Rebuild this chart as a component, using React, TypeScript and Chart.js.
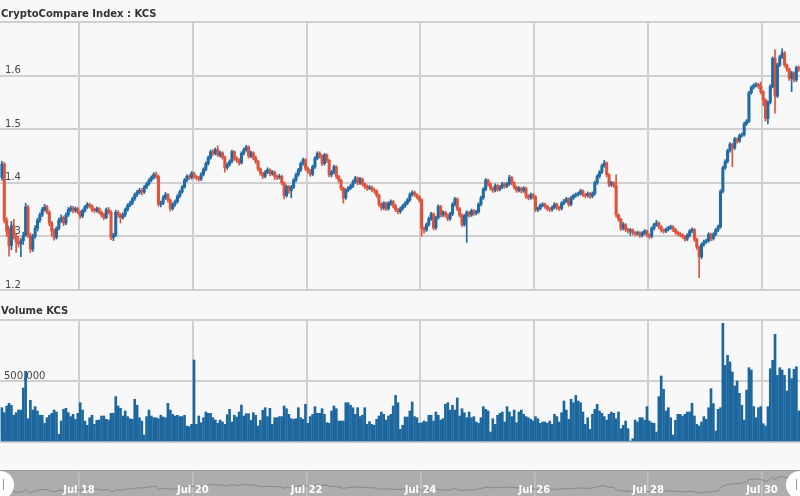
import React, { useEffect, useRef } from 'react';
import { Chart, registerables } from 'chart.js';

Chart.register(...registerables);
Chart.defaults.font.family = '"DejaVu Sans", Verdana, sans-serif';

// time axis: hours since Jul 16 00:00
const FIRST_HOUR = 15;
const X_MIN = 14.69;
const X_MAX = 352.03;
const dayTicks = [48, 96, 144, 192, 240, 288, 336];
const dayLabels = ['Jul 18', 'Jul 20', 'Jul 22', 'Jul 24', 'Jul 26', 'Jul 28', 'Jul 30'];

const priceTicks = [1.2, 1.3, 1.4, 1.5, 1.6, 1.7];
const priceTickLabels = ['1.2', '1.3', '1.4', '1.5', '1.6', ''];
const volumeTicks = [0, 500, 1000];
const volumeTickLabels = ['0', '500,000', ''];

const opens = [
  1.410,1.435,1.330,1.310,1.283,1.320,1.300,1.290,1.286,1.292,
  1.302,1.355,1.302,1.276,1.300,1.315,1.330,1.340,1.350,1.355,
  1.345,1.325,1.310,1.298,1.315,1.330,1.335,1.325,1.340,1.350,
  1.353,1.348,1.352,1.345,1.338,1.348,1.355,1.360,1.357,1.350,
  1.348,1.352,1.345,1.340,1.335,1.350,1.345,1.298,1.302,1.345,
  1.340,1.335,1.340,1.350,1.358,1.362,1.370,1.378,1.382,1.386,
  1.383,1.392,1.398,1.405,1.410,1.416,1.412,1.360,1.362,1.372,
  1.378,1.368,1.352,1.360,1.365,1.375,1.383,1.392,1.405,1.412,
  1.410,1.418,1.412,1.410,
  1.407,1.416,1.425,1.436,1.447,1.458,1.455,1.462,1.452,1.456,
  1.448,1.428,1.434,1.440,1.458,1.446,1.442,1.437,1.455,1.462,
  1.467,1.450,1.456,1.447,1.440,1.426,1.418,1.412,1.420,1.424,
  1.417,1.420,1.412,1.410,1.412,1.400,1.376,1.393,1.385,1.392,
  1.405,1.415,1.424,1.436,1.443,1.427,1.422,1.416,1.430,1.446,
  1.455,1.450,1.436,1.452,1.442,1.415,1.420,1.430,1.412,1.405,
  1.390,1.372,1.386,1.390,1.394,1.402,1.409,1.400,1.407,1.398,
  1.393,1.390,1.392,1.387,1.385,1.377,1.360,1.353,1.362,1.352,
  1.362,1.365,1.357,1.350,
  1.346,1.352,1.357,1.362,1.368,1.378,1.382,1.378,1.374,1.368,
  1.315,1.312,1.322,1.333,1.342,1.316,1.335,1.356,1.340,1.345,
  1.340,1.333,1.342,1.360,1.370,1.352,1.340,1.322,1.338,1.345,
  1.340,1.348,1.343,1.346,1.360,1.372,1.388,1.405,1.398,1.390,
  1.386,1.395,1.388,1.392,1.398,1.394,1.398,1.410,1.400,1.392,
  1.386,1.390,1.385,1.390,1.375,1.372,1.378,1.374,1.350,1.352,
  1.358,1.360,1.356,1.352,1.350,1.354,1.360,1.354,1.352,1.362,
  1.366,1.370,1.360,1.372,1.376,1.378,1.380,1.385,1.378,1.376,
  1.380,1.375,1.380,1.400,1.412,
  1.420,1.432,1.437,1.415,1.397,1.400,1.395,1.340,1.332,1.315,
  1.322,1.313,1.310,1.312,1.307,1.305,1.307,1.302,1.306,1.310,
  1.303,1.300,1.315,1.322,1.325,1.318,1.312,1.310,1.313,1.316,
  1.318,1.313,1.308,1.305,1.303,1.300,1.295,1.302,1.310,1.313,
  1.295,1.280,1.262,1.285,1.290,1.292,1.304,1.296,1.304,1.312,
  1.318,1.384,1.428,1.440,1.460,1.472,1.465,1.482,1.478,1.488,
  1.490,1.510,1.515,1.568,1.578,1.582,1.584,1.580,1.570,1.555,
  1.520,1.550,1.580,1.632,1.562,1.620,1.635,1.642,1.620,1.612,
  1.595,1.605,1.592,1.615,
];

const closes = [
  1.435,1.330,1.310,1.283,1.320,1.300,1.290,1.286,1.292,1.302,
  1.355,1.302,1.276,1.300,1.315,1.330,1.340,1.350,1.355,1.345,
  1.325,1.310,1.298,1.315,1.330,1.335,1.325,1.340,1.350,1.353,
  1.348,1.352,1.345,1.338,1.348,1.355,1.360,1.357,1.350,1.348,
  1.352,1.345,1.340,1.335,1.350,1.345,1.298,1.302,1.345,1.340,
  1.335,1.340,1.350,1.358,1.362,1.370,1.378,1.382,1.386,1.383,
  1.392,1.398,1.405,1.410,1.416,1.412,1.360,1.362,1.372,1.378,
  1.368,1.352,1.360,1.365,1.375,1.383,1.392,1.405,1.412,1.410,
  1.418,1.412,1.410,1.407,
  1.416,1.425,1.436,1.447,1.458,1.455,1.462,1.452,1.456,1.448,
  1.428,1.434,1.440,1.458,1.446,1.442,1.437,1.455,1.462,1.467,
  1.450,1.456,1.447,1.440,1.426,1.418,1.412,1.420,1.424,1.417,
  1.420,1.412,1.410,1.412,1.400,1.376,1.393,1.385,1.392,1.405,
  1.415,1.424,1.436,1.443,1.427,1.422,1.416,1.430,1.446,1.455,
  1.450,1.436,1.452,1.442,1.415,1.420,1.430,1.412,1.405,1.390,
  1.372,1.386,1.390,1.394,1.402,1.409,1.400,1.407,1.398,1.393,
  1.390,1.392,1.387,1.385,1.377,1.360,1.353,1.362,1.352,1.362,
  1.365,1.357,1.350,1.346,
  1.352,1.357,1.362,1.368,1.378,1.382,1.378,1.374,1.368,1.315,
  1.312,1.322,1.333,1.342,1.316,1.335,1.356,1.340,1.345,1.340,
  1.333,1.342,1.360,1.370,1.352,1.340,1.322,1.338,1.345,1.340,
  1.348,1.343,1.346,1.360,1.372,1.388,1.405,1.398,1.390,1.386,
  1.395,1.388,1.392,1.398,1.394,1.398,1.410,1.400,1.392,1.386,
  1.390,1.385,1.390,1.375,1.372,1.378,1.374,1.350,1.352,1.358,
  1.360,1.356,1.352,1.350,1.354,1.360,1.354,1.352,1.362,1.366,
  1.370,1.360,1.372,1.376,1.378,1.380,1.385,1.378,1.376,1.380,
  1.375,1.380,1.400,1.412,1.420,
  1.432,1.437,1.415,1.397,1.400,1.395,1.340,1.332,1.315,1.322,
  1.313,1.310,1.312,1.307,1.305,1.307,1.302,1.306,1.310,1.303,
  1.300,1.315,1.322,1.325,1.318,1.312,1.310,1.313,1.316,1.318,
  1.313,1.308,1.305,1.303,1.300,1.295,1.302,1.310,1.313,1.295,
  1.280,1.262,1.285,1.290,1.292,1.304,1.296,1.304,1.312,1.318,
  1.384,1.428,1.440,1.460,1.472,1.465,1.482,1.478,1.488,1.490,
  1.510,1.515,1.568,1.578,1.582,1.584,1.580,1.570,1.555,1.520,
  1.550,1.580,1.632,1.562,1.620,1.635,1.642,1.620,1.612,1.595,
  1.605,1.592,1.615,1.612,
];

const highs = [
  1.440,1.438,1.335,1.315,1.328,1.332,1.305,1.300,1.296,1.308,
  1.362,1.358,1.306,1.304,1.320,1.334,1.344,1.354,1.360,1.358,
  1.348,1.328,1.314,1.318,1.334,1.340,1.338,1.344,1.354,1.357,
  1.356,1.355,1.354,1.348,1.351,1.358,1.363,1.362,1.359,1.353,
  1.355,1.354,1.348,1.343,1.353,1.354,1.348,1.306,1.349,1.348,
  1.343,1.344,1.353,1.361,1.366,1.373,1.381,1.386,1.390,1.389,
  1.395,1.401,1.408,1.413,1.419,1.420,1.414,1.366,1.376,1.382,
  1.380,1.370,1.363,1.368,1.378,1.386,1.395,1.408,1.415,1.415,
  1.421,1.420,1.414,1.412,
  1.419,1.428,1.439,1.450,1.461,1.462,1.465,1.469,1.459,1.458,
  1.450,1.437,1.443,1.461,1.460,1.449,1.445,1.458,1.465,1.470,
  1.469,1.459,1.458,1.450,1.442,1.428,1.420,1.423,1.428,1.426,
  1.423,1.422,1.415,1.416,1.414,1.402,1.396,1.395,1.395,1.408,
  1.418,1.427,1.439,1.446,1.445,1.430,1.425,1.433,1.449,1.458,
  1.458,1.452,1.455,1.454,1.444,1.423,1.433,1.432,1.414,1.407,
  1.392,1.389,1.393,1.397,1.405,1.412,1.411,1.410,1.409,1.400,
  1.396,1.395,1.394,1.390,1.387,1.379,1.363,1.365,1.364,1.365,
  1.368,1.367,1.360,1.352,
  1.355,1.360,1.365,1.371,1.381,1.385,1.385,1.380,1.376,1.370,
  1.318,1.325,1.336,1.345,1.344,1.338,1.359,1.358,1.348,1.347,
  1.342,1.345,1.363,1.373,1.372,1.354,1.342,1.341,1.348,1.347,
  1.351,1.350,1.349,1.363,1.375,1.391,1.408,1.407,1.400,1.392,
  1.398,1.397,1.395,1.401,1.400,1.401,1.414,1.412,1.402,1.394,
  1.393,1.392,1.393,1.392,1.378,1.381,1.380,1.376,1.355,1.361,
  1.363,1.362,1.358,1.354,1.357,1.363,1.362,1.356,1.365,1.369,
  1.373,1.372,1.375,1.379,1.381,1.383,1.388,1.387,1.380,1.383,
  1.382,1.383,1.403,1.415,1.423,
  1.435,1.442,1.439,1.417,1.403,1.402,1.415,1.342,1.334,1.326,
  1.324,1.315,1.315,1.314,1.309,1.310,1.309,1.309,1.313,1.312,
  1.305,1.318,1.325,1.330,1.327,1.320,1.314,1.316,1.319,1.321,
  1.320,1.315,1.310,1.307,1.305,1.302,1.305,1.313,1.316,1.315,
  1.297,1.282,1.288,1.293,1.295,1.307,1.306,1.307,1.315,1.321,
  1.387,1.431,1.443,1.463,1.475,1.474,1.485,1.484,1.491,1.493,
  1.513,1.518,1.571,1.581,1.585,1.587,1.586,1.588,1.572,1.557,
  1.553,1.583,1.635,1.648,1.623,1.638,1.650,1.645,1.622,1.614,
  1.608,1.607,1.618,1.618,
];

const lows = [
  1.405,1.325,1.300,1.263,1.275,1.295,1.270,1.280,1.262,1.285,
  1.300,1.298,1.270,1.272,1.296,1.310,1.326,1.337,1.347,1.342,
  1.320,1.300,1.293,1.295,1.312,1.326,1.320,1.322,1.337,1.346,
  1.344,1.345,1.342,1.334,1.335,1.345,1.352,1.353,1.346,1.344,
  1.345,1.342,1.336,1.331,1.333,1.342,1.294,1.292,1.300,1.336,
  1.325,1.332,1.337,1.347,1.355,1.359,1.367,1.374,1.379,1.378,
  1.380,1.389,1.395,1.402,1.407,1.408,1.356,1.355,1.359,1.369,
  1.364,1.347,1.349,1.356,1.362,1.372,1.380,1.390,1.402,1.406,
  1.407,1.408,1.405,1.403,
  1.404,1.413,1.422,1.433,1.444,1.451,1.452,1.449,1.448,1.444,
  1.420,1.425,1.431,1.437,1.442,1.438,1.433,1.435,1.452,1.459,
  1.446,1.447,1.443,1.436,1.422,1.414,1.408,1.409,1.417,1.413,
  1.414,1.406,1.406,1.407,1.396,1.370,1.373,1.380,1.372,1.389,
  1.402,1.412,1.421,1.433,1.423,1.418,1.412,1.413,1.427,1.443,
  1.446,1.432,1.433,1.438,1.411,1.411,1.417,1.408,1.401,1.386,
  1.362,1.369,1.383,1.387,1.391,1.399,1.396,1.397,1.394,1.389,
  1.386,1.387,1.383,1.381,1.373,1.356,1.349,1.350,1.348,1.349,
  1.358,1.353,1.346,1.342,
  1.343,1.349,1.354,1.359,1.365,1.375,1.374,1.370,1.364,1.300,
  1.306,1.309,1.319,1.330,1.312,1.313,1.332,1.336,1.337,1.336,
  1.329,1.330,1.339,1.357,1.348,1.336,1.318,1.319,1.289,1.336,
  1.337,1.339,1.340,1.343,1.357,1.369,1.385,1.394,1.386,1.382,
  1.383,1.384,1.385,1.389,1.390,1.391,1.395,1.396,1.388,1.382,
  1.383,1.381,1.382,1.371,1.368,1.369,1.370,1.346,1.346,1.349,
  1.355,1.352,1.348,1.346,1.347,1.351,1.350,1.348,1.349,1.359,
  1.363,1.356,1.357,1.369,1.373,1.375,1.377,1.374,1.372,1.373,
  1.371,1.372,1.377,1.397,1.409,
  1.417,1.429,1.411,1.393,1.393,1.391,1.336,1.328,1.311,1.312,
  1.309,1.306,1.302,1.303,1.301,1.302,1.298,1.299,1.303,1.299,
  1.296,1.297,1.312,1.319,1.314,1.308,1.306,1.307,1.310,1.313,
  1.309,1.304,1.301,1.299,1.296,1.291,1.292,1.299,1.307,1.291,
  1.276,1.223,1.258,1.282,1.287,1.289,1.292,1.293,1.301,1.309,
  1.315,1.381,1.425,1.437,1.457,1.430,1.462,1.474,1.475,1.485,
  1.487,1.507,1.512,1.565,1.575,1.579,1.576,1.566,1.544,1.515,
  1.510,1.547,1.577,1.530,1.559,1.617,1.632,1.616,1.608,1.591,
  1.570,1.588,1.589,1.608,
];

// hourly volume, thousands of KCS
const volumesK = [
  281,240,295,317,301,219,240,262,262,443,
  580,191,342,262,290,254,219,219,153,199,
  219,235,262,246,63,172,268,276,240,208,
  227,186,235,322,262,172,137,199,219,145,
  178,180,213,213,186,180,235,235,372,295,
  276,213,254,208,191,186,350,301,199,172,
  57,208,262,213,199,199,191,219,205,199,
  317,262,227,213,219,208,208,219,131,126,
  145,672,145,213,
  158,199,246,235,235,199,180,153,180,164,
  145,224,268,164,219,205,246,303,213,232,
  232,178,240,219,131,178,260,281,208,276,
  145,199,199,208,208,295,273,227,191,186,
  191,281,199,186,309,153,208,227,290,235,
  235,273,227,158,153,254,295,273,172,172,
  172,322,322,301,281,227,281,208,219,281,
  145,167,145,137,186,213,246,227,180,213,
  227,295,382,322,
  104,137,205,205,254,328,208,199,153,158,
  172,164,219,219,172,246,219,180,191,309,
  322,262,301,262,361,213,273,240,199,246,
  199,208,164,153,199,290,268,254,82,191,
  145,219,235,246,164,290,246,208,262,158,
  246,262,227,208,199,186,172,208,191,153,
  164,164,153,172,145,227,208,164,240,336,
  262,186,350,322,382,336,322,246,145,199,
  104,227,268,309,254,
  235,208,180,227,246,235,191,246,109,137,
  172,109,8,27,180,164,199,199,180,290,
  172,158,153,82,372,541,432,254,281,199,
  57,178,227,227,213,227,246,246,317,213,
  145,131,164,208,186,281,437,314,90,268,
  281,973,628,710,656,574,459,500,399,301,
  180,426,609,590,290,199,281,290,150,131,
  290,601,669,882,546,609,590,546,418,601,
  519,596,617,254,
];

const UP = '#1f6ba6';
const DOWN = '#df533b';
const VOL = '#1d679f';
const GRID = '#d0d0d0';
const BG = '#f8f8f8';

const candleX = (k: number) => FIRST_HOUR + k + 0.5;

const collapse = (scale: any) => {
  if (scale.isHorizontal()) scale.height = 0;
  else scale.width = 0;
  scale.paddingTop = 0;
  scale.paddingBottom = 0;
  scale.paddingLeft = 0;
  scale.paddingRight = 0;
};

const dayAxis = (gridColor: string, lw: number) => ({
  type: 'linear' as const,
  min: X_MIN,
  max: X_MAX,
  offset: false,
  grid: { offset: false, color: gridColor, lineWidth: lw, drawTicks: false },
  border: { display: false },
  ticks: { display: false },
  afterBuildTicks: (s: any) => {
    s.ticks = dayTicks.map((v) => ({ value: v }));
  },
  afterFit: collapse,
});

const titlePlugin = (id: string, text: string, baseline: number) => ({
  id,
  afterDraw(chart: any) {
    const ctx = chart.ctx;
    ctx.save();
    ctx.font = 'bold 10px "DejaVu Sans"';
    ctx.fillStyle = '#333';
    ctx.textAlign = 'left';
    ctx.textBaseline = 'alphabetic';
    ctx.fillText(text, 1, baseline);
    ctx.restore();
  },
});

export default function App() {
  const priceRef = useRef<HTMLCanvasElement>(null);
  const volRef = useRef<HTMLCanvasElement>(null);
  const navRef = useRef<HTMLCanvasElement>(null);

  useEffect(() => {
    const colors = closes.map((c, i) => (c >= opens[i] ? UP : DOWN));
    const tickFont = { family: '"DejaVu Sans"', size: 10 };

    const price = new Chart(priceRef.current as HTMLCanvasElement, {
      type: 'bar',
      data: {
        datasets: [
          {
            data: closes.map((_, i) => ({ x: candleX(i), y: [lows[i], highs[i]] })) as any,
            backgroundColor: colors,
            barThickness: 1,
            grouped: false,
            borderWidth: 0,
          },
          {
            data: closes.map((c, i) => ({ x: candleX(i), y: [opens[i], c] })) as any,
            backgroundColor: colors,
            barThickness: 2.4,
            grouped: false,
            minBarLength: 1,
            borderWidth: 0,
          },
        ],
      },
      options: {
        animation: false,
        responsive: false,
        events: [],
        layout: { padding: { top: 22, bottom: 6, left: 0, right: 0 } },
        plugins: { legend: { display: false }, tooltip: { enabled: false } },
        scales: {
          x: dayAxis(GRID, 2) as any,
          y: {
            type: 'linear',
            min: 1.2,
            max: 1.7,
            beginAtZero: false,
            grid: { color: GRID, lineWidth: 2, drawTicks: false },
            border: { display: false },
            ticks: {
              mirror: true,
              padding: 5,
              labelOffset: -5,
              color: '#444',
              font: tickFont,
              callback: (_v: any, i: number) => priceTickLabels[i] ?? '',
            },
            afterBuildTicks: (s: any) => {
              s.ticks = priceTicks.map((v) => ({ value: v }));
            },
            afterFit: collapse,
          } as any,
        },
      },
      plugins: [titlePlugin('priceTitle', 'CryptoCompare Index : KCS', 16.5)],
    });

    const volume = new Chart(volRef.current as HTMLCanvasElement, {
      type: 'bar',
      data: {
        datasets: [
          {
            data: volumesK.map((v, i) => ({ x: candleX(i), y: v })) as any,
            backgroundColor: VOL,
            barThickness: 2,
            borderWidth: 0,
          },
        ],
      },
      options: {
        animation: false,
        responsive: false,
        events: [],
        layout: { padding: { top: 24, bottom: 6, left: 0, right: 0 } },
        plugins: { legend: { display: false }, tooltip: { enabled: false } },
        scales: {
          x: dayAxis(GRID, 2) as any,
          y: {
            type: 'linear',
            min: 0,
            max: 1000,
            grid: { color: GRID, lineWidth: 2, drawTicks: false },
            border: { display: false },
            ticks: {
              mirror: true,
              padding: 4,
              labelOffset: -5,
              color: '#444',
              font: tickFont,
              callback: (_v: any, i: number) => volumeTickLabels[i] ?? '',
            },
            afterBuildTicks: (s: any) => {
              s.ticks = volumeTicks.map((v) => ({ value: v }));
            },
            afterFit: collapse,
          } as any,
        },
      },
      plugins: [titlePlugin('volTitle', 'Volume KCS', 18)],
    });

    const navPlugin = {
      id: 'navigatorDecor',
      beforeDraw(chart: any) {
        const { ctx, chartArea: a } = chart;
        ctx.save();
        ctx.fillStyle = '#adadad';
        ctx.fillRect(a.left, a.top, a.right - a.left, a.bottom - a.top);
        ctx.restore();
      },
      afterDraw(chart: any) {
        const { ctx, chartArea: a, scales } = chart;
        ctx.save();
        ctx.strokeStyle = '#9a9a9a';
        ctx.lineWidth = 1;
        ctx.beginPath();
        ctx.moveTo(a.left, a.top + 0.5);
        ctx.lineTo(a.right, a.top + 0.5);
        ctx.stroke();
        ctx.font = 'bold 10px "DejaVu Sans"';
        ctx.fillStyle = '#ffffff';
        ctx.textAlign = 'center';
        ctx.textBaseline = 'alphabetic';
        dayTicks.forEach((d, i) => {
          ctx.fillText(dayLabels[i], scales.x.getPixelForValue(d), a.bottom - 3);
        });
        const cy = a.top + 15;
        [a.left, a.right].forEach((hx: number, idx: number) => {
          ctx.beginPath();
          ctx.fillStyle = '#ffffff';
          ctx.arc(hx, cy, 14, 0, Math.PI * 2);
          ctx.fill();
          ctx.strokeStyle = '#999';
          ctx.lineWidth = 1;
          ctx.beginPath();
          const mx = idx === 0 ? hx + 3.5 : hx - 3.5;
          ctx.moveTo(mx, cy - 6);
          ctx.lineTo(mx, cy + 5);
          ctx.stroke();
        });
        ctx.restore();
      },
    };

    const nav = new Chart(navRef.current as HTMLCanvasElement, {
      type: 'line',
      data: {
        datasets: [
          {
            data: closes.map((c, i) => ({ x: candleX(i), y: c })) as any,
            borderColor: '#878787',
            borderWidth: 1,
            pointRadius: 0,
            tension: 0,
            fill: false,
          },
        ],
      },
      options: {
        animation: false,
        responsive: false,
        events: [],
        layout: { padding: { top: 24, bottom: 0, left: 0, right: 0 } },
        plugins: { legend: { display: false }, tooltip: { enabled: false } },
        scales: {
          x: dayAxis('#c2c2c2', 1.5) as any,
          y: {
            type: 'linear',
            min: 1.205,
            max: 1.783,
            display: false,
          },
        },
      },
      plugins: [navPlugin],
    });

    return () => {
      price.destroy();
      volume.destroy();
      nav.destroy();
    };
  }, []);

  return (
    <div
      style={{
        position: 'fixed',
        left: 0,
        top: 0,
        width: 800,
        height: 496,
        background: BG,
        overflow: 'hidden',
      }}
    >
      <canvas ref={priceRef} width={800} height={296} style={{ position: 'absolute', left: 0, top: 0 }} />
      <canvas ref={volRef} width={800} height={152} style={{ position: 'absolute', left: 0, top: 296 }} />
      <canvas ref={navRef} width={800} height={50} style={{ position: 'absolute', left: 0, top: 446 }} />
    </div>
  );
}
